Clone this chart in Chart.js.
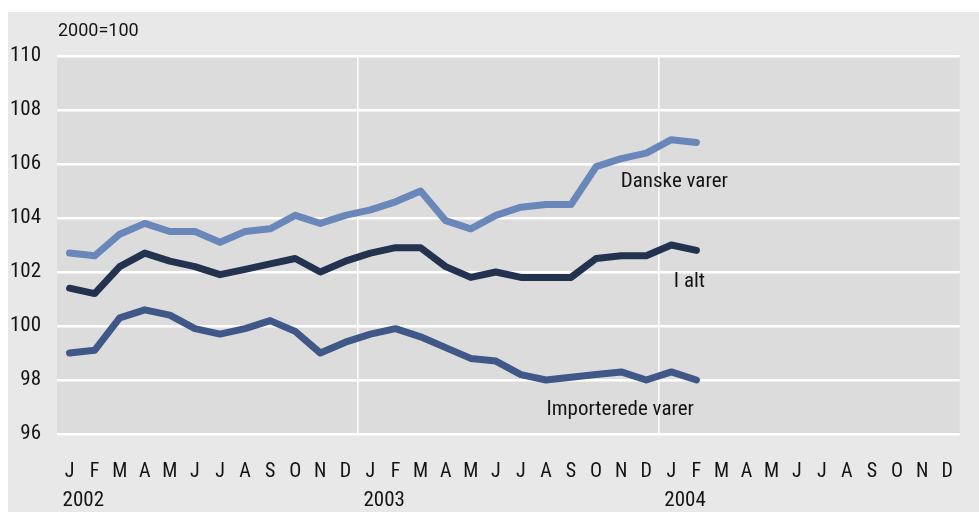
<!DOCTYPE html>
<html>
<head>
<meta charset="utf-8">
<script src="https://cdn.jsdelivr.net/npm/chart.js@4"></script>
<style>
  html, body { margin: 0; padding: 0; background: #ffffff; }
  #c { display: block; }
</style>
</head>
<body>
<canvas id="c" width="979" height="512"></canvas>
<script>
const monthLetters = ['J','F','M','A','M','J','J','A','S','O','N','D'];
const years = ['2002', '2003', '2004'];
const categories = [].concat(monthLetters, monthLetters, monthLetters);
const danskeVarer = [102.7,102.6,103.4,103.8,103.5,103.5,103.1,103.5,103.6,104.1,103.8,104.1,
                     104.3,104.6,105.0,103.9,103.6,104.1,104.4,104.5,104.5,105.9,106.2,106.4,
                     106.9,106.8];
const iAlt = [101.4,101.2,102.2,102.7,102.4,102.2,101.9,102.1,102.3,102.5,102.0,102.4,
              102.7,102.9,102.9,102.2,101.8,102.0,101.8,101.8,101.8,102.5,102.6,102.6,
              103.0,102.8];
const importeredeVarer = [99.0,99.1,100.3,100.6,100.4,99.9,99.7,99.9,100.2,99.8,99.0,99.4,
                          99.7,99.9,99.6,99.2,98.8,98.7,98.2,98.0,98.1,98.2,98.3,98.0,
                          98.3,98.0];
const seriesNames = ['Danske varer', 'I alt', 'Importerede varer'];
const unitLabel = '2000=100';
const yTicks = [96, 98, 100, 102, 104, 106, 108, 110];

const FAMILY = "'Roboto Condensed', Roboto, sans-serif";
const fontStr = (size) => size + 'px ' + FAMILY;

const bgPlugin = {
  id: 'bg',
  beforeDraw(chart) {
    const ctx = chart.ctx, a = chart.chartArea;
    ctx.save();
    ctx.fillStyle = '#ffffff';
    ctx.fillRect(0, 0, chart.width, chart.height);
    ctx.fillStyle = '#e8e8e8';
    ctx.fillRect(8, 12, chart.width - 8, chart.height - 12);
    ctx.fillStyle = '#dcdcdc';
    ctx.fillRect(a.left, a.top, a.right - a.left, a.bottom - a.top);
    ctx.restore();
  },
  afterDraw(chart) {
    const ctx = chart.ctx, x = chart.scales.x, y = chart.scales.y;
    ctx.save();
    ctx.fillStyle = '#141414';
    ctx.textBaseline = 'middle';
    ctx.textAlign = 'left';
    ctx.font = "18px Roboto, sans-serif";
    ctx.fillText(unitLabel, 58, 31);
    ctx.font = fontStr(21);
    years.forEach((yr, i) => {
      ctx.fillText(yr, x.getPixelForValue(i * 12) - 7, 501);
    });
    ctx.textAlign = 'center';
    ctx.fillText(seriesNames[0], x.getPixelForValue(24) + 3, y.getPixelForValue(105.33));
    ctx.fillText(seriesNames[1], x.getPixelForValue(25) - 7, y.getPixelForValue(101.63));
    ctx.fillText(seriesNames[2], x.getPixelForValue(22) - 1, y.getPixelForValue(96.9));
    ctx.restore();
  }
};

new Chart(document.getElementById('c'), {
  type: 'line',
  data: {
    labels: categories,
    datasets: [
      { label: seriesNames[0], data: danskeVarer, borderColor: '#6a87b9' },
      { label: seriesNames[1], data: iAlt, borderColor: '#23324f' },
      { label: seriesNames[2], data: importeredeVarer, borderColor: '#3f5888' }
    ].map(d => Object.assign(d, {
      borderWidth: 7, pointRadius: 0, tension: 0,
      borderCapStyle: 'round', borderJoinStyle: 'round', fill: false
    }))
  },
  options: {
    responsive: false,
    animation: false,
    layout: { padding: { top: 56, right: 8, bottom: 0, left: 0 } },
    plugins: { legend: { display: false }, tooltip: { enabled: false } },
    scales: {
      x: {
        offset: true,
        border: { display: false },
        grid: {
          offset: true,
          drawTicks: false,
          lineWidth: 1.5,
          color: (c) => (c.index % 12 === 0 && c.index > 0) ? '#ffffff' : 'rgba(0,0,0,0)'
        },
        ticks: {
          autoSkip: false, maxRotation: 0, padding: 26,
          color: '#141414', font: { family: FAMILY, size: 20 }
        },
        afterFit(s) { s.height = 78; }
      },
      y: {
        min: 96, max: 110,
        border: { display: false },
        afterBuildTicks(s) { s.ticks = yTicks.map(v => ({ value: v })); },
        grid: { drawTicks: false, color: '#ffffff', lineWidth: 2.5 },
        ticks: {
          padding: 16, color: '#141414',
          font: { family: FAMILY, size: 21 }
        },
        afterFit(s) { s.width = 57; }
      }
    }
  },
  plugins: [bgPlugin]
});
</script>
</body>
</html>
